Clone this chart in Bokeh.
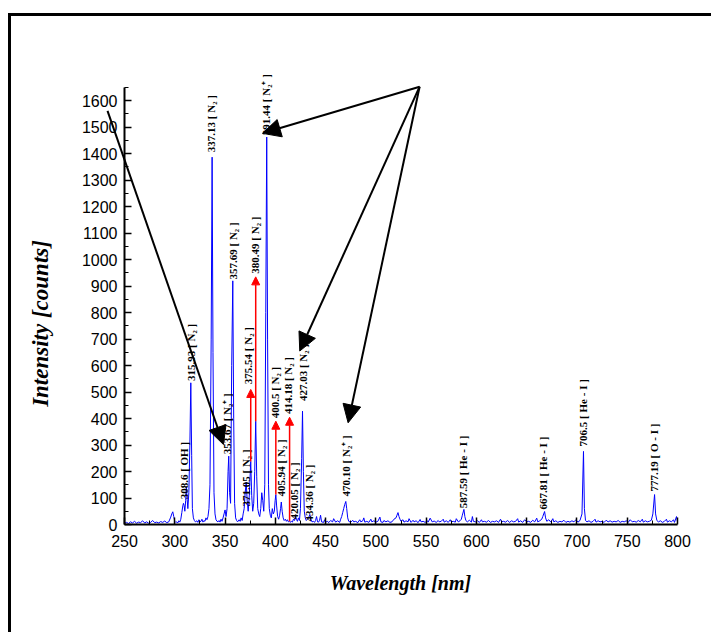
import math
from bokeh.plotting import figure
from bokeh.models import (Arrow, NormalHead, FixedTicker, Label,
                          ColumnDataSource, Range1d, LabelSet)
from bokeh.embed import file_html
from bokeh.resources import INLINE

# ---------------- data ----------------
wavelength = [
    250, 252, 254, 256, 258, 260, 262, 264, 266, 268, 270, 272, 274, 276, 278, 280, 282, 284, 286, 288,
    290, 292, 294, 296, 297, 298, 299, 300, 301, 302, 303, 304, 305, 306, 307, 308, 308.6, 309.3, 310,
    310.8, 311.5, 312.3, 313, 314, 315, 315.93, 316.8, 317.5, 318.5, 319.5, 320.5, 322, 323, 324, 325,
    326, 327, 328, 329, 330, 331, 332, 333, 334, 335, 336.2, 337.13, 338, 339, 340, 341, 342, 343, 344,
    345, 346, 347, 348, 349, 350, 351, 352, 353, 353.67, 354.5, 355.5, 356.6, 357.69, 358.6, 359.5,
    360.5, 361.5, 362.5, 364, 365, 366, 367, 368, 369, 370, 371.05, 372, 373, 374, 375.54, 376.5, 377.5,
    378.5, 379.5, 380.49, 381.5, 382.5, 383.5, 384.5, 385.5, 386.5, 387.5, 388.5, 389.5, 390.5, 391.44,
    392.3, 393.2, 394, 395, 396, 397, 398, 399, 399.8, 400.5, 401.3, 402.3, 403.3, 404.3, 405.2, 405.94,
    406.8, 407.8, 408.8, 410, 411, 412, 413, 414.18, 415, 416, 417, 418, 419, 420.05, 421, 422, 423, 424,
    425, 426.2, 427.03, 427.9, 428.8, 429.8, 430.8, 432, 433, 434.36, 435.3, 436.5, 438, 439, 440, 441,
    442, 443, 444, 445, 446, 448, 449, 450, 452, 453, 455, 457, 458, 460, 462, 464, 465, 466, 467, 468,
    469, 470.1, 471, 472, 473, 475, 477, 478, 480, 482, 484, 485, 487, 488, 489, 491, 493, 495, 496, 498,
    500, 502, 504, 505, 507, 508, 510, 512, 514, 516, 518, 520, 521, 522, 523, 524, 525, 527, 528, 530,
    532, 533, 535, 537, 538, 540, 542, 544, 545, 547, 549, 551, 552, 554, 556, 558, 560, 562, 563, 565,
    567, 568, 570, 572, 574, 575, 577, 579, 580, 582, 584, 585, 586, 587.59, 588.5, 589.5, 591, 593, 595,
    596, 597, 599, 601, 603, 605, 606, 608, 610, 612, 614, 616, 618, 620, 622, 624, 625, 627, 629, 631,
    633, 635, 637, 639, 641, 642, 644, 646, 648, 650, 652, 654, 656, 658, 660, 661, 663, 665, 666, 667.81,
    668.8, 670, 672, 674, 676, 677, 679, 681, 683, 685, 687, 689, 691, 693, 695, 697, 699, 701, 703, 705,
    706.5, 707.4, 708.5, 710, 712, 714, 716, 718, 719, 721, 723, 725, 727, 729, 731, 733, 735, 737, 739,
    741, 743, 745, 747, 749, 751, 753, 755, 757, 759, 761, 763, 765, 766, 768, 770, 772, 774, 775.5,
    777.19, 778.2, 779.5, 781, 783, 785, 787, 789, 790, 792, 794, 796, 797, 799, 800,
]
counts = [
    5, 8, 4, 10, 6, 12, 5, 9, 7, 14, 6, 10, 5, 8, 15, 7, 9, 6, 11, 8,
    13, 7, 10, 28, 40, 48, 30, 12, 8, 10, 6, 14, 9, 20, 45, 70, 80, 72, 50,
    90, 140, 95, 60, 120, 300, 535, 260, 60, 25, 15, 10, 14, 8, 18, 10,
    12, 20, 9, 15, 12, 25, 18, 30, 60, 150, 700, 1387, 650, 120, 40, 18, 12, 10, 15,
    9, 20, 12, 25, 40, 55, 30, 60, 200, 258, 120, 80, 600, 920, 400, 80,
    25, 15, 10, 18, 12, 25, 15, 40, 60, 120, 160, 90, 50, 100, 238, 110, 50,
    80, 200, 390, 180, 60, 40, 30, 60, 120, 90, 50, 150, 800, 1463,
    700, 150, 60, 35, 25, 60, 40, 50, 90, 113, 70, 30, 20, 35, 60, 85,
    50, 25, 15, 20, 12, 18, 10, 14, 8, 12, 9, 20, 15, 30, 20, 12, 25, 15,
    60, 250, 428, 200, 50, 25, 15, 20, 25, 38, 20, 10, 12, 8, 15, 30,
    10, 9, 16, 35, 10, 8, 18, 9, 12, 7, 15, 10, 22, 9, 14, 8, 20, 30, 45, 60,
    75, 87, 60, 25, 12, 8, 16, 10, 12, 7, 18, 10, 14, 25, 9, 12, 8, 20, 10, 14,
    9, 12, 28, 10, 8, 15, 10, 14, 8, 10, 20, 25, 35, 45, 30, 20, 12, 18, 9, 14,
    10, 22, 8, 16, 10, 14, 7, 19, 10, 12, 8, 15, 9, 24, 10, 13, 8, 15, 10, 12,
    20, 9, 14, 8, 18, 10, 12, 9, 22, 10, 15, 20, 35, 57, 30, 15, 10, 16, 9,
    30, 12, 10, 14, 8, 18, 10, 12, 9, 15, 8, 12, 10, 14, 8, 20, 10, 12, 9, 15,
    8, 14, 10, 12, 22, 9, 14, 8, 18, 10, 12, 8, 16, 10, 24, 10, 14, 20, 30, 49,
    25, 12, 18, 9, 22, 10, 14, 8, 12, 10, 16, 8, 12, 9, 14, 10, 18, 9, 15, 40,
    276, 60, 15, 10, 14, 8, 12, 20, 9, 14, 10, 12, 8, 16, 10, 14, 9, 12, 10,
    15, 8, 12, 10, 14, 8, 18, 10, 12, 9, 15, 10, 20, 9, 14, 10, 12, 16, 40,
    113, 40, 15, 10, 14, 8, 12, 20, 9, 14, 10, 18, 8, 30, 10,
]

label_text = [
    "308.6 [ OH ]", "315.93 [ N\u2082 ]", "337.13 [ N\u2082 ]", "353.67 [ N\u2082\u207a ]",
    "357.69 [ N\u2082 ]", "371.05 [ N\u2082 ]", "375.54 [ N\u2082 ]", "380.49 [ N\u2082 ]",
    "391.44 [ N\u2082\u207a ]", "400.5 [ N\u2082 ]", "405.94 [ N\u2082 ]", "414.18 [ N\u2082 ]",
    "420.05 [ N\u2082 ]", "427.03 [ N\u2082 ]", "434.36 [ N\u2082 ]", "470.10 [ N\u2082\u207a ]",
    "587.59 [ He - I ]", "667.81 [ He - I ]", "706.5 [ He - I ]", "777.19 [ O - I ]",
]
label_x = [309.6, 316.6, 336.5, 352.1, 358.1, 370.6, 373.0, 380.2, 391.2, 400.1,
           406.1, 413.0, 419.0, 427.6, 433.9, 470.7, 587.0, 666.5, 706.3, 776.8]
label_y = [95, 542, 1406, 265, 925, 68, 530, 947, 1470, 401,
           106, 417, 19, 466, 11, 106, 61, 57, 295, 125]

# red arrows: from peak tops up to their labels
red_x = [375.54, 380.49, 400.5, 414.18]
red_y0 = [238, 390, 113, 12]
red_y1 = [510, 935, 390, 405]

# black pointer arrows
blk_x0 = [543.5, 543.5, 543.5, 233.1]
blk_y0 = [1653, 1653, 1653, 1562]
blk_x1 = [387.2, 424.3, 472.4, 348.4]
blk_y1 = [1477, 655, 384, 302]

x_ticks = [250, 300, 350, 400, 450, 500, 550, 600, 650, 700, 750, 800]
y_ticks = [0, 100, 200, 300, 400, 500, 600, 700, 800, 900, 1000, 1100, 1200, 1300, 1400, 1500, 1600]

x_title = "Wavelength [nm]"
y_title = "Intensity [counts]"

# ---------------- figure ----------------
p = figure(width=703, height=619, output_backend="svg", toolbar_location=None,
           x_range=Range1d(137.6, 836.8), y_range=Range1d(-419.1, 1838.8),
           min_border_left=0, min_border_right=0, min_border_top=21, min_border_bottom=0)
p.styles = {"margin-left": "8px", "margin-top": "13px",
            "border-left": "3px solid black", "border-top": "3px solid black"}
p.xgrid.visible = False
p.ygrid.visible = False
p.outline_line_color = None
p.background_fill_color = "white"
p.border_fill_color = "white"

p.xaxis.ticker = FixedTicker(ticks=x_ticks, minor_ticks=[t + 25 for t in x_ticks[:-1]])
p.yaxis.ticker = FixedTicker(ticks=y_ticks, minor_ticks=[t + 50 for t in y_ticks])
p.xaxis.bounds = (250, 800)
p.yaxis.bounds = (0, 1650)
p.yaxis.fixed_location = 250
p.xaxis.fixed_location = 0

for ax in (p.xaxis[0], p.yaxis[0]):
    ax.axis_line_width = 2
    ax.axis_line_color = "black"
    ax.major_tick_in = 7
    ax.major_tick_out = 0
    ax.minor_tick_in = 4
    ax.minor_tick_out = 0
    ax.major_tick_line_width = 1.5
    ax.minor_tick_line_width = 1
    ax.major_tick_line_color = "black"
    ax.minor_tick_line_color = "black"
    ax.major_label_text_font = "Liberation Sans"
    ax.major_label_text_font_size = "16px"
    ax.major_label_text_color = "black"

p.xaxis.major_label_standoff = 10
p.yaxis.major_label_standoff = 7

p.line(wavelength, counts, line_color="blue", line_width=1)

# axis titles
p.add_layout(Label(x=524.5, y=-219, text=x_title, text_align="center", text_baseline="middle",
                   text_font="Liberation Serif", text_font_style="bold italic",
                   text_font_size="20px", text_color="black"))
p.add_layout(Label(x=166.5, y=759, text=y_title, angle=math.pi / 2,
                   text_align="center", text_baseline="middle",
                   text_font="Liberation Serif", text_font_style="bold italic",
                   text_font_size="23px", text_color="black"))

lab_src = ColumnDataSource(dict(x=label_x, y=label_y, text=label_text))
p.add_layout(LabelSet(x="x", y="y", text="text", source=lab_src, angle=math.pi / 2,
                      text_align="left", text_baseline="middle",
                      text_font="Liberation Serif", text_font_style="bold",
                      text_font_size="11px", text_color="black"))

red_src = ColumnDataSource(dict(x0=red_x, y0=red_y0, x1=red_x, y1=red_y1))
p.add_layout(Arrow(x_start="x0", y_start="y0", x_end="x1", y_end="y1", source=red_src,
                   line_color="red", line_width=1.5,
                   end=NormalHead(size=8, fill_color="red", line_color="red", line_width=1)))

blk_src = ColumnDataSource(dict(x0=blk_x0, y0=blk_y0, x1=blk_x1, y1=blk_y1))
p.add_layout(Arrow(x_start="x0", y_start="y0", x_end="x1", y_end="y1", source=blk_src,
                   line_color="black", line_width=2,
                   end=NormalHead(size=18, fill_color="black", line_color="black", line_width=1)))

open("out.html", "w").write(file_html(p, INLINE))
